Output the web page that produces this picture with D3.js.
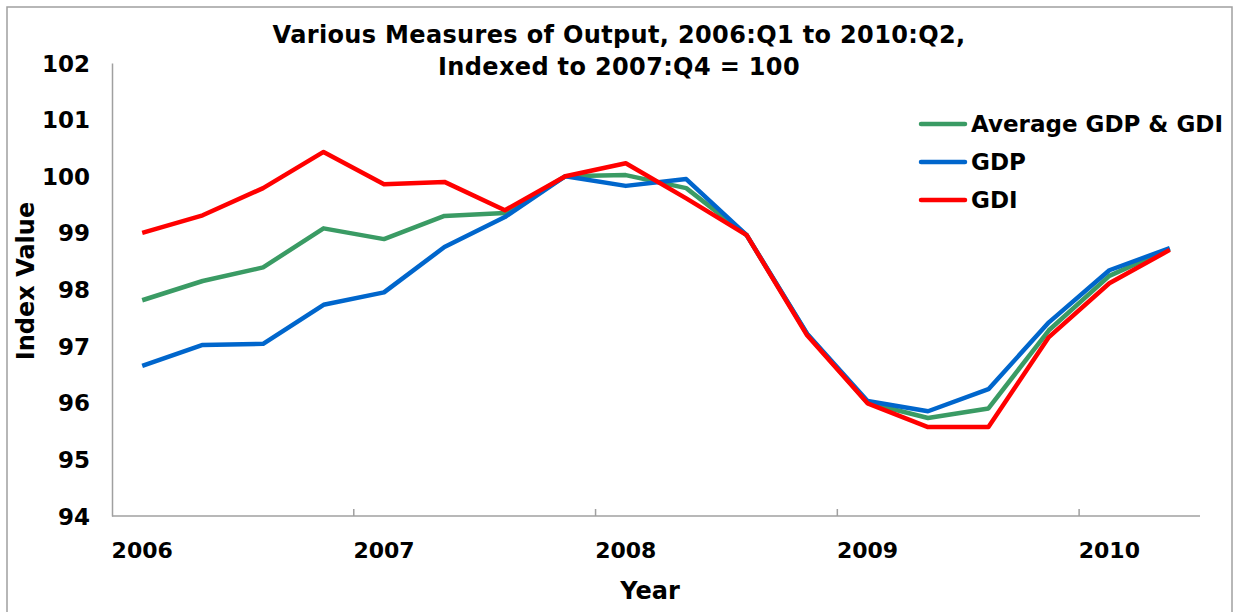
<!DOCTYPE html>
<html>
<head>
<meta charset="utf-8">
<script src="https://cdn.jsdelivr.net/npm/d3@7"></script>
<style>
  body { margin: 0; background: #fff; }
  text { font-family: "DejaVu Sans", Verdana, sans-serif; font-weight: bold; fill: #000; }
</style>
</head>
<body>
<svg id="chart" width="1241" height="612"></svg>
<script>
const quarters = [
  '2006Q1', '2006Q2', '2006Q3', '2006Q4',
  '2007Q1', '2007Q2', '2007Q3', '2007Q4',
  '2008Q1', '2008Q2', '2008Q3', '2008Q4',
  '2009Q1', '2009Q2', '2009Q3', '2009Q4',
  '2010Q1', '2010Q2'
];
const yearLabels = ['2006', '2007', '2008', '2009', '2010'];
const yTicks = [94, 95, 96, 97, 98, 99, 100, 101, 102];

const avgValues = [97.81, 98.15, 98.39, 99.08, 98.89, 99.30, 99.35, 100, 100.02, 99.79, 98.96, 97.21, 96.0, 95.73, 95.90, 97.28, 98.24, 98.72];
const gdpValues = [96.65, 97.02, 97.04, 97.73, 97.95, 98.75, 99.28, 100, 99.83, 99.95, 98.96, 97.22, 96.03, 95.85, 96.24, 97.42, 98.34, 98.73];
const gdiValues = [99.00, 99.31, 99.79, 100.43, 99.86, 99.90, 99.40, 100, 100.23, 99.61, 98.96, 97.19, 95.99, 95.57, 95.57, 97.16, 98.11, 98.70];

const series = [
  { name: 'Average GDP & GDI', values: avgValues, color: '#3a9b64' },
  { name: 'GDP', values: gdpValues, color: '#0066cc' },
  { name: 'GDI', values: gdiValues, color: '#ff0000' }
];

const svg = d3.select('#chart');
const plotLeft = 112, plotRight = 1200, plotTop = 63, plotBottom = 516;

// outer frame
svg.append('rect')
  .attr('x', 7).attr('y', 7)
  .attr('width', 1225).attr('height', 640)
  .attr('fill', 'none').attr('stroke', '#a0a0a0').attr('stroke-width', 1.5);

const x = d3.scaleBand().domain(quarters).range([plotLeft, plotRight]);
const y = d3.scaleLinear().domain([94, 102]).range([plotBottom, plotTop]);

// y axis
const yAxis = svg.append('g')
  .attr('transform', `translate(${plotLeft},0)`)
  .call(d3.axisLeft(y).tickValues(yTicks).tickSize(0).tickPadding(22));
yAxis.select('.domain').attr('stroke', '#a0a0a0').attr('stroke-width', 1.5);
yAxis.selectAll('text').style('font-size', '23px').attr('dy', '0.35em');

// x axis
const xAxis = svg.append('g')
  .attr('transform', `translate(0,${plotBottom})`);
xAxis.append('line')
  .attr('x1', plotLeft).attr('x2', plotRight)
  .attr('stroke', '#a0a0a0').attr('stroke-width', 1.5);
xAxis.selectAll('.tick')
  .data(quarters.filter((q, i) => i % 4 === 0 && i > 0))
  .join('line')
  .attr('x1', d => x(d)).attr('x2', d => x(d))
  .attr('y1', 0).attr('y2', -7)
  .attr('stroke', '#a0a0a0').attr('stroke-width', 1.5);
xAxis.selectAll('.year')
  .data(yearLabels)
  .join('text')
  .attr('x', (d, i) => x(quarters[i * 4]) + x.bandwidth() / 2)
  .attr('y', 42)
  .attr('text-anchor', 'middle')
  .style('font-size', '22px')
  .text(d => d);

// axis titles
svg.append('text')
  .attr('x', 650).attr('y', 599)
  .attr('text-anchor', 'middle')
  .style('font-size', '24px')
  .text('Year');
svg.append('text')
  .attr('transform', 'translate(34,281) rotate(-90)')
  .attr('text-anchor', 'middle')
  .style('font-size', '24px')
  .text('Index Value');

// title
svg.append('text')
  .attr('x', 619).attr('y', 43)
  .attr('text-anchor', 'middle')
  .style('font-size', '24px')
  .style('letter-spacing', '0.35px')
  .text('Various Measures of Output, 2006:Q1 to 2010:Q2,');
svg.append('text')
  .attr('x', 619).attr('y', 75)
  .attr('text-anchor', 'middle')
  .style('font-size', '24px')
  .style('letter-spacing', '0.35px')
  .text('Indexed to 2007:Q4 = 100');

// lines
const line = d3.line()
  .x((d, i) => x(quarters[i]) + x.bandwidth() / 2)
  .y(d => y(d));

svg.selectAll('.series')
  .data(series)
  .join('path')
  .attr('fill', 'none')
  .attr('stroke', d => d.color)
  .attr('stroke-width', 4.5)
  .attr('stroke-linejoin', 'round')
  .attr('d', d => line(d.values));

// legend
const legend = svg.append('g').attr('transform', 'translate(921,124)');
const item = legend.selectAll('g')
  .data(series)
  .join('g')
  .attr('transform', (d, i) => `translate(0,${i * 38})`);
item.append('line')
  .attr('x1', 0).attr('x2', 44)
  .attr('stroke', d => d.color)
  .attr('stroke-width', 4.5)
  .attr('stroke-linecap', 'round');
item.append('text')
  .attr('x', 50).attr('dy', '0.35em')
  .style('font-size', '23px')
  .text(d => d.name);
</script>
</body>
</html>
